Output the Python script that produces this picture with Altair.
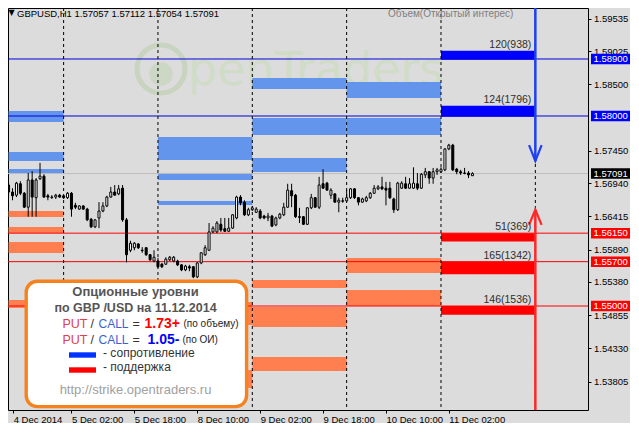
import json
import altair as alt
import pandas as pd

# ---------------- data ----------------
# GBPUSD H1 candles, bar 0 = 4 Dec 2014 10:00 (one bar per hour, weekend skipped)
opens = [1.5691, 1.5680, 1.5675, 1.5693, 1.5678, 1.5656, 1.5699, 1.5671, 1.5701, 1.5705,
         1.5674, 1.5672, 1.5672, 1.5675, 1.5674, 1.5671, 1.5678, 1.5659, 1.5653, 1.5658,
         1.5653, 1.5637, 1.5625, 1.5639, 1.5650, 1.5658, 1.5672, 1.5680, 1.5677, 1.5686,
         1.5636, 1.5588, 1.5592, 1.5598, 1.5588, 1.5592, 1.5581, 1.5571, 1.5571, 1.5566,
         1.5566, 1.5573, 1.5571, 1.5571, 1.5565, 1.5557, 1.5562, 1.5562, 1.5546, 1.5568,
         1.5581, 1.5588, 1.5617, 1.5617, 1.5629, 1.5622, 1.5618, 1.5623, 1.5639, 1.5672,
         1.5664, 1.5644, 1.5652, 1.5648, 1.5650, 1.5642, 1.5639, 1.5642, 1.5628, 1.5639,
         1.5644, 1.5656, 1.5682, 1.5675, 1.5641, 1.5641, 1.5629, 1.5655, 1.5671, 1.5656,
         1.5693, 1.5694, 1.5675, 1.5677, 1.5664, 1.5666, 1.5666, 1.5671, 1.5685, 1.5671,
         1.5664, 1.5666, 1.5671, 1.5678, 1.5685, 1.5688, 1.5686, 1.5686, 1.5669, 1.5652,
         1.5686, 1.5693, 1.5686, 1.5686, 1.5693, 1.5686, 1.5707, 1.5712, 1.5702, 1.5712,
         1.5712, 1.5715, 1.5748, 1.5754, 1.5716, 1.5712, 1.5710, 1.5710, 1.57057]
highs = [1.5696, 1.5686, 1.5696, 1.5697, 1.5680, 1.5710, 1.5713, 1.5702, 1.5726, 1.5708,
         1.5677, 1.5675, 1.5677, 1.5677, 1.5675, 1.5680, 1.5680, 1.5663, 1.5659, 1.5659,
         1.5655, 1.5639, 1.5637, 1.5664, 1.5664, 1.5674, 1.5688, 1.5691, 1.5691, 1.5691,
         1.5639, 1.5603, 1.5601, 1.5599, 1.5593, 1.5593, 1.5582, 1.5588, 1.5576, 1.5568,
         1.5577, 1.5579, 1.5579, 1.5573, 1.5566, 1.5565, 1.5565, 1.5563, 1.5569, 1.5585,
         1.5596, 1.5631, 1.5626, 1.5634, 1.5639, 1.5639, 1.5639, 1.5645, 1.5674, 1.5675,
         1.5667, 1.5655, 1.5658, 1.5656, 1.5653, 1.5644, 1.5647, 1.5644, 1.5641, 1.5647,
         1.5663, 1.5693, 1.5693, 1.5677, 1.5655, 1.5642, 1.5656, 1.5677, 1.5672, 1.5704,
         1.5716, 1.5696, 1.5686, 1.5678, 1.5671, 1.5671, 1.5683, 1.5686, 1.5686, 1.5672,
         1.5671, 1.5674, 1.5680, 1.5691, 1.5691, 1.5704, 1.5696, 1.5696, 1.5671, 1.5696,
         1.5697, 1.5704, 1.5702, 1.5719, 1.5710, 1.5710, 1.5718, 1.5713, 1.5718, 1.5718,
         1.5719, 1.5749, 1.5756, 1.5756, 1.5718, 1.5715, 1.5718, 1.5713, 1.57112]
lows = [1.5675, 1.5667, 1.5672, 1.5675, 1.5655, 1.5641, 1.5641, 1.5641, 1.5699, 1.5671,
        1.5667, 1.5669, 1.5669, 1.5671, 1.5669, 1.5669, 1.5641, 1.5653, 1.5652, 1.5652,
        1.5634, 1.5623, 1.5623, 1.5623, 1.5648, 1.5656, 1.5671, 1.5675, 1.5675, 1.5633,
        1.5569, 1.5585, 1.5588, 1.5590, 1.5584, 1.5579, 1.5571, 1.5569, 1.5560, 1.5560,
        1.5565, 1.5571, 1.5569, 1.5563, 1.5555, 1.5555, 1.5555, 1.5544, 1.5544, 1.5566,
        1.5579, 1.5587, 1.5615, 1.5615, 1.5617, 1.5617, 1.5617, 1.5622, 1.5637, 1.5659,
        1.5642, 1.5642, 1.5650, 1.5647, 1.5637, 1.5637, 1.5634, 1.5625, 1.5626, 1.5637,
        1.5642, 1.5655, 1.5656, 1.5639, 1.5631, 1.5628, 1.5628, 1.5653, 1.5655, 1.5653,
        1.5685, 1.5682, 1.5669, 1.5663, 1.5648, 1.5663, 1.5664, 1.5669, 1.5669, 1.5659,
        1.5663, 1.5664, 1.5669, 1.5677, 1.5683, 1.5683, 1.5659, 1.5669, 1.5647, 1.5650,
        1.5685, 1.5685, 1.5685, 1.5685, 1.5683, 1.5685, 1.5702, 1.5693, 1.5693, 1.5707,
        1.5710, 1.5713, 1.5746, 1.5713, 1.5708, 1.5707, 1.5708, 1.5702, 1.57054]
closes = [1.5680, 1.5674, 1.5694, 1.5678, 1.5656, 1.5699, 1.5672, 1.5699, 1.5705, 1.5672,
          1.5672, 1.56715, 1.5675, 1.5672, 1.5671, 1.5678, 1.5653, 1.5656, 1.5658, 1.5653,
          1.5636, 1.5625, 1.5636, 1.5650, 1.5658, 1.5672, 1.5680, 1.5675, 1.5685, 1.5636,
          1.5581, 1.5599, 1.5599, 1.5592, 1.55875, 1.5581, 1.5573, 1.5577, 1.5562, 1.5562,
          1.5574, 1.5577, 1.5577, 1.5565, 1.5557, 1.5563, 1.5560, 1.5546, 1.5568, 1.5584,
          1.5592, 1.5617, 1.5623, 1.5631, 1.5620, 1.5618, 1.5623, 1.5644, 1.5672, 1.5663,
          1.5644, 1.5652, 1.5655, 1.5653, 1.5639, 1.5639, 1.5642, 1.5626, 1.5639, 1.5645,
          1.5656, 1.5683, 1.5674, 1.5641, 1.5640, 1.5629, 1.5655, 1.5671, 1.5656, 1.5691,
          1.5686, 1.5683, 1.5683, 1.5664, 1.5667, 1.56655, 1.5671, 1.5685, 1.5671, 1.5664,
          1.5669, 1.5671, 1.5678, 1.5686, 1.5688, 1.5685, 1.5683, 1.5671, 1.5652, 1.5694,
          1.5694, 1.5686, 1.5693, 1.5694, 1.5686, 1.5708, 1.5712, 1.5702, 1.5712, 1.5715,
          1.5716, 1.5748, 1.5754, 1.5715, 1.5712, 1.5710, 1.57095, 1.5707, 1.57091]

time_label_bars = [0, 16, 32, 48, 64, 80, 96, 112]
time_labels = ["4 Dec 2014", "5 Dec 02:00", "5 Dec 18:00", "8 Dec 10:00",
               "9 Dec 02:00", "9 Dec 18:00", "10 Dec 10:00", "11 Dec 02:00"]
day_separators = [14, 38, 62, 86, 110, 134]
price_ticks = [1.59535, 1.59025, 1.58500, 1.57450, 1.56940, 1.56415,
               1.55890, 1.55380, 1.54855, 1.54330, 1.53805, 1.53295]

# past option levels per day column (start bar, end bar, low, high)
res_start = [0, 0, 0, 38, 38, 38, 62, 62, 62, 86, 86]
res_end = [14, 14, 14, 62, 62, 62, 86, 86, 86, 110, 110]
res_lo = [1.57905, 1.57289, 1.57100, 1.57305, 1.56989, 1.56595, 1.58426, 1.57700, 1.57116, 1.58284, 1.57700]
res_hi = [1.58079, 1.57432, 1.57163, 1.57668, 1.57100, 1.56658, 1.58600, 1.57968, 1.57337, 1.58537, 1.57968]
sup_start = [0, 0, 0, 0, 38, 38, 62, 62, 62, 86, 86]
sup_end = [14, 14, 14, 14, 62, 62, 86, 86, 86, 110, 110]
sup_lo = [1.56405, 1.56153, 1.55837, 1.54968, 1.54700, 1.53705, 1.55284, 1.54668, 1.53974, 1.55521, 1.55000]
sup_hi = [1.56500, 1.56247, 1.56011, 1.55095, 1.55063, 1.53990, 1.55411, 1.54984, 1.54195, 1.55758, 1.55253]

# current day (11 Dec) levels
cur_start, cur_end = 110, 134
cur_kind = ["res", "res", "sup", "sup", "sup"]
cur_lo = [1.5889, 1.5799, 1.5602, 1.5550, 1.5486]
cur_hi = [1.5903, 1.5816, 1.5615, 1.5570, 1.5500]
cur_text = ["120(938)", "124(1796)", "51(369)", "165(1342)", "146(1536)"]

res_lines = [1.58900, 1.58000]
sup_lines = [1.56150, 1.55700, 1.55000]
bid_price = 1.57091
tag_prices = [1.58900, 1.58000, 1.57091, 1.56150, 1.55700, 1.55000]
tag_kind = ["res", "res", "bid", "sup", "sup", "sup"]

arrow_bar = 134
call_tip = 1.5729
put_tip = 1.5652

header = "GBPUSD,H1  1.57057 1.57112 1.57054 1.57091"

# ---------------- chart ----------------
W, H = 580, 402
X_DOM = [1.125, 146.125]
Y_DOM = [1.533580, 1.597052]
xs = alt.Scale(domain=X_DOM, nice=False, zero=False)
ys = alt.Scale(domain=Y_DOM, nice=False, zero=False)
FONT = "Liberation Sans"

x_vals = [max(b, X_DOM[0] + 0.05) for b in time_label_bars]
x_axis = alt.Axis(values=x_vals, title=None, grid=False, domain=False,
                  labelExpr=f"{json.dumps(time_labels)}[indexof({json.dumps(x_vals)}, datum.value)]",
                  tickSize=3, tickColor="black", labelAlign="left", labelBaseline="top",
                  labelPadding=1, labelFont=FONT, labelFontSize=9.5, labelColor="black",
                  labelFlush=False, labelOverlap=False)
y_axis = alt.Axis(orient="right", values=price_ticks, format=".5f", title=None, grid=False,
                  domain=False, tickSize=3, tickColor="black", labelPadding=2.5,
                  labelAlign="left", labelBaseline="middle", labelFont=FONT,
                  labelFontSize=9.5, labelColor="black", labelFlush=False, labelOverlap=False)


def X(f):
    return alt.X(f, type="quantitative", scale=xs, axis=x_axis)


def Y(f):
    return alt.Y(f, type="quantitative", scale=ys, axis=y_axis)


candles = pd.DataFrame({"i": list(range(len(opens))), "o": opens, "h": highs, "l": lows, "c": closes})
candles["dir"] = ["up" if c >= o else "down" for o, c in zip(opens, closes)]
hist_res = pd.DataFrame({"s": res_start, "e": res_end, "lo": res_lo, "hi": res_hi})
hist_sup = pd.DataFrame({"s": sup_start, "e": sup_end, "lo": sup_lo, "hi": sup_hi})
cur = pd.DataFrame({"s": [cur_start] * len(cur_lo), "e": [cur_end] * len(cur_lo),
                    "lo": cur_lo, "hi": cur_hi, "kind": cur_kind, "label": cur_text})
one = pd.DataFrame({"k": [0]})


def note(txt, x, y, size, color, weight="normal", align="left", font=FONT, baseline="middle"):
    return alt.Chart(one).mark_text(text=txt, align=align, baseline=baseline, fontSize=size,
                                    color=color, fontWeight=weight, font=font).encode(
        x=alt.value(x), y=alt.value(y))


def box(x1, x2, y1, y2, **kw):
    return alt.Chart(one).mark_rect(**kw).encode(
        x=alt.value(x1), x2=alt.value(x2), y=alt.value(y1), y2=alt.value(y2))


layers = []
# watermark
layers.append(alt.Chart(one).mark_point(shape="circle", size=2304, filled=False, color="#C8D3C0",
                                        strokeWidth=5, opacity=1).encode(x=alt.value(153), y=alt.value(61)))
layers.append(alt.Chart(one).mark_point(shape="circle", size=560, filled=True, color="#CCD7C5",
                                        opacity=1).encode(x=alt.value(153), y=alt.value(66)))
layers.append(note("penTraders", 180, 77, 46, "#D0DCC7", font="DejaVu Sans", baseline="alphabetic"))

# past levels
layers.append(alt.Chart(hist_res).mark_rect(color="#6495ED", clip=True).encode(
    x=X("s"), x2=alt.X2("e"), y=Y("lo"), y2=alt.Y2("hi")))
layers.append(alt.Chart(hist_sup).mark_rect(color="#FF7F50", clip=True).encode(
    x=X("s"), x2=alt.X2("e"), y=Y("lo"), y2=alt.Y2("hi")))
# current levels
layers.append(alt.Chart(cur[cur.kind == "res"]).mark_rect(color="#0000FF", clip=True).encode(
    x=X("s"), x2=alt.X2("e"), y=Y("lo"), y2=alt.Y2("hi")))
layers.append(alt.Chart(cur[cur.kind == "sup"]).mark_rect(color="#FF0000", clip=True).encode(
    x=X("s"), x2=alt.X2("e"), y=Y("lo"), y2=alt.Y2("hi")))

# horizontal lines
layers.append(alt.Chart(pd.DataFrame({"p": res_lines})).mark_rule(color="#0000DD", strokeWidth=1, clip=True).encode(y=Y("p")))
layers.append(alt.Chart(pd.DataFrame({"p": sup_lines})).mark_rule(color="#FF0000", strokeWidth=1, clip=True).encode(y=Y("p")))
layers.append(alt.Chart(pd.DataFrame({"p": [bid_price]})).mark_rule(color="#BDBDBD", strokeWidth=1, clip=True).encode(y=Y("p")))

# day separators
layers.append(alt.Chart(pd.DataFrame({"i": day_separators})).mark_rule(
    color="black", strokeDash=[3, 3], strokeWidth=1, clip=True).encode(x=X("i")))

# candles
layers.append(alt.Chart(candles).mark_rule(color="black", strokeWidth=1, clip=True).encode(
    x=X("i"), y=Y("h"), y2=alt.Y2("l")))
layers.append(alt.Chart(candles).mark_bar(size=2, stroke="black", strokeWidth=1, clip=True).encode(
    x=X("i"), y=Y("o"), y2=alt.Y2("c"),
    fill=alt.Fill("dir:N", scale=alt.Scale(domain=["up", "down"], range=["white", "black"]), legend=None)))

# arrows
layers.append(alt.Chart(pd.DataFrame({"i": [arrow_bar], "a": [Y_DOM[1]], "b": [call_tip]})).mark_rule(
    color="#2040F0", strokeWidth=2.5, clip=True).encode(x=X("i"), y=Y("a"), y2=alt.Y2("b")))
layers.append(alt.Chart(pd.DataFrame({"i": [arrow_bar], "a": [put_tip], "b": [Y_DOM[0]]})).mark_rule(
    color="#FF2828", strokeWidth=2.5, clip=True).encode(x=X("i"), y=Y("a"), y2=alt.Y2("b")))
call_head = pd.DataFrame({"i": [arrow_bar - 1.6, arrow_bar, arrow_bar + 1.6],
                          "p": [call_tip + 0.0025, call_tip, call_tip + 0.0025], "k": [0, 1, 2]})
put_head = pd.DataFrame({"i": [arrow_bar - 1.6, arrow_bar, arrow_bar + 1.6],
                         "p": [put_tip - 0.0024, put_tip, put_tip - 0.0024], "k": [0, 1, 2]})
layers.append(alt.Chart(call_head).mark_line(color="#2040F0", strokeWidth=2.2, clip=True).encode(
    x=X("i"), y=Y("p"), order="k:Q"))
layers.append(alt.Chart(put_head).mark_line(color="#FF2828", strokeWidth=2.2, clip=True).encode(
    x=X("i"), y=Y("p"), order="k:Q"))

# level labels
layers.append(alt.Chart(cur).mark_text(align="right", baseline="bottom", dx=-4, dy=-1, font=FONT,
                                       fontSize=10.5, color="#2E2E2E").encode(
    x=X("e"), y=Y("hi"), text="label:N"))

# legend box
layers.append(box(18.2, 238.6, 273.2, 398.6, fill="white", stroke="#F5821E", strokeWidth=3.4, cornerRadius=11))
layers.append(note("Опционные уровни", 127.5, 284.3, 13, "#555555", weight="bold", align="center"))
layers.append(note("по GBP /USD на 11.12.2014", 127.5, 300.3, 12.5, "#555555", weight="bold", align="center"))
for yy, val, vcol, vx, tail, tx in [(315.8, "1.73+", "#FF0000", 136.5, "(по объему)", 175.5),
                                      (331.5, "1.05-", "#0000FF", 139.5, "(по ОИ)", 174.5)]:
    layers.append(note("PUT", 54.5, yy, 12.5, "#E0404A"))
    layers.append(note("/", 82.5, yy, 12.5, "#333333"))
    layers.append(note("CALL", 90.5, yy, 12, "#4060D8"))
    layers.append(note("=", 124.5, yy, 12.5, "#333333"))
    layers.append(note(val, vx, yy, 14, vcol, weight="bold"))
    layers.append(note(tail, tx, yy, 10, "#222222"))
layers.append(box(61, 88, 344.3, 349.7, color="#0033FF"))
layers.append(note("- сопротивление", 95, 344.7, 12, "#333333"))
layers.append(box(61, 88, 359.3, 364.7, color="#FF0000"))
layers.append(note("- поддержка", 95, 358.7, 12, "#333333"))
layers.append(note("http://strike.opentraders.ru", 127.5, 382, 13, "#A0A0A0", align="center"))

# header
layers.append(note("▼", 3.5, 5, 8, "black", align="center", font="DejaVu Sans"))
layers.append(note(header, 9, 5.8, 9.5, "black"))
layers.append(note("Объем(Открытый интерес)", 380, 6.2, 10, "#808080"))

# price tags on the right axis
tags = pd.DataFrame({"p": tag_prices, "kind": tag_kind, "txt": [f"{p:.5f}" for p in tag_prices]})
layers.append(alt.Chart(tags).mark_point(shape="M-1,-0.27L1,-0.27L1,0.27L-1,0.27Z", filled=True,
                                         size=1521, opacity=1, strokeWidth=0).encode(
    x=alt.value(W + 22.5), y=Y("p"),
    color=alt.Color("kind:N", scale=alt.Scale(domain=["res", "bid", "sup"],
                                              range=["#0000FF", "#000000", "#FF0000"]), legend=None)))
layers.append(alt.Chart(tags).mark_text(align="left", baseline="middle", font=FONT, fontSize=9.5,
                                        color="white").encode(
    x=alt.value(W + 5.5), y=Y("p"), text="txt:N"))

chart = alt.layer(*layers).properties(
    width=W, height=H, background="#DCDCDC",
    padding={"left": 0, "top": 0, "right": 42, "bottom": 13},
    autosize=alt.AutoSizeParams(type="none"),
).configure_view(stroke="black", strokeWidth=1)

chart.save("out.html", embed_options={"renderer": "svg", "actions": False})
